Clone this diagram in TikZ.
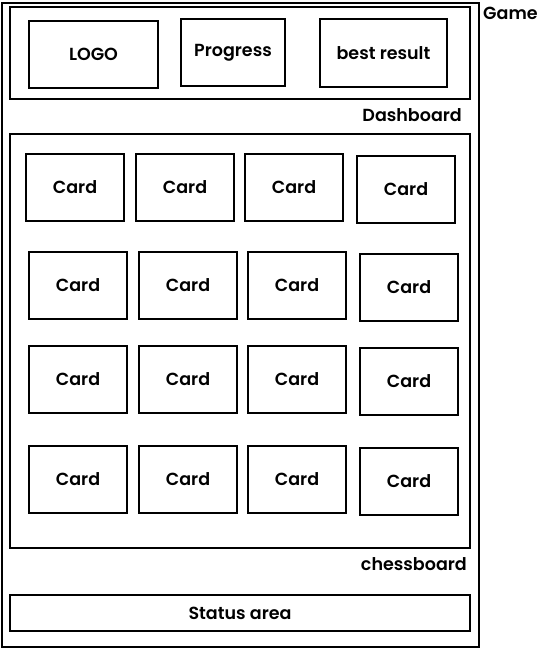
\documentclass[tikz,border=0pt]{standalone}
\usepackage{fontspec}
\setmainfont{Poppins SemiBold}
\usetikzlibrary{positioning}
\tikzset{
  box/.style={draw, line width=2pt, inner sep=0pt, font=\fontsize{17.5}{20}\selectfont},
  card/.style={box, minimum width=98pt, minimum height=67pt},
  tag/.style={inner sep=0pt, font=\fontsize{17.5}{20}\selectfont},
}

\begin{document}
\begin{tikzpicture}[x=1pt, y=-1pt]
    \useasboundingbox (0,0) rectangle (554,649);
    % frames
    \node[box, minimum width=477pt, minimum height=644pt] (game) at (240.5,324.5) {};
    \node[box, minimum width=460pt, minimum height=92pt]  (dash) at (240,53) {};
    \node[box, minimum width=460pt, minimum height=414pt] (board) at (240,341) {};
    \node[box, minimum width=460pt, minimum height=36pt]  (status) at (240,613) {Status area};
    \node[tag, anchor=west] (gamelabel) at ([xshift=3pt, yshift=-12pt]game.north east) {Game};
    \node[tag, anchor=east] (dashlabel) at ([xshift=-9pt, yshift=-15pt]dash.south east) {Dashboard};
    \node[tag, anchor=east] (boardlabel) at ([xshift=-4pt, yshift=-15pt]board.south east) {chessboard};
    % dashboard items
    \node[box, minimum width=129pt, minimum height=67pt] (logo) at (93.5,54.5) {LOGO};
    \node[box, minimum width=104pt, minimum height=67pt] (progress) at (233,52.5) {Progress};
    \node[box, minimum width=127pt, minimum height=68pt] (best) at (383.5,53) {best result};
    % cards
    \foreach \row/\y/\dx in {1/187/0, 2/285/3, 3/379.5/3, 4/479.5/3}
      \foreach \col/\x/\dy in {1/75/0, 2/185/0, 3/294/0, 4/406/2}
        \node[card] (card-\row-\col) at (\x+\dx, \y+\dy) {Card};
\end{tikzpicture}
\end{document}
